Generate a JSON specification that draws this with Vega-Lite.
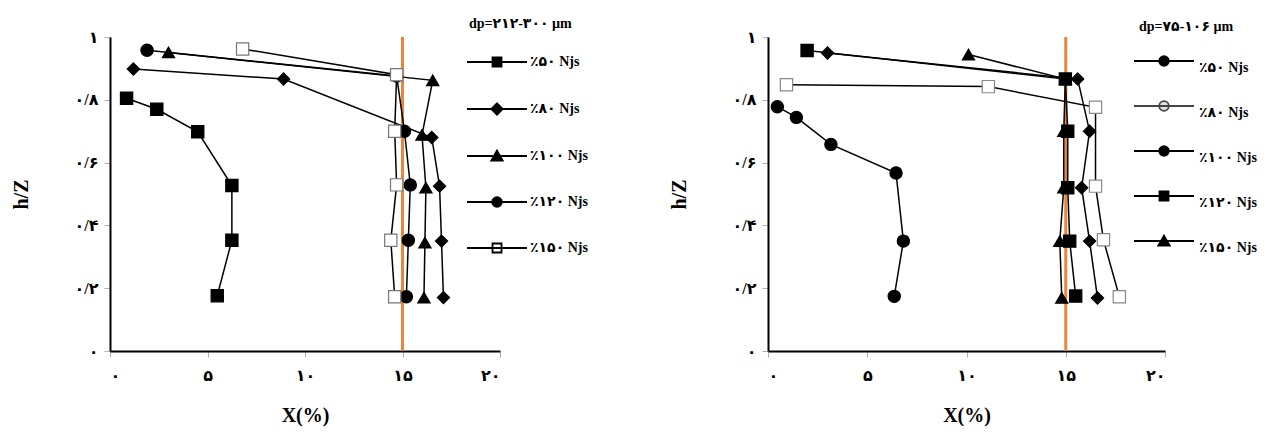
{
  "$schema": "https://vega.github.io/schema/vega-lite/v6.json",
  "autosize": {"type": "pad"},
  "padding": {"left": 11, "top": 17, "right": 5, "bottom": 5},
  "bounds": "flush",
  "spacing": 268,
  "config": {
    "view": {"stroke": null},
    "font": "Liberation Serif, DejaVu Sans",
    "axis": {"grid": false, "domainColor": "black", "domainWidth": 2, "tickColor": "#b0b0b0", "tickSize": 6, "labelFont": "Liberation Serif, DejaVu Sans", "labelFontSize": 16, "labelFontWeight": "bold", "labelColor": "black", "titleFont": "Liberation Serif, DejaVu Sans", "titleFontSize": 20, "titleFontWeight": "bold", "titleColor": "black"},
    "axisX": {"labelPadding": 10, "titlePadding": 22},
    "axisY": {"labelPadding": 6, "titlePadding": 43},
    "legend": {"titleFont": "Liberation Serif, DejaVu Sans", "titleFontSize": 14, "titleFontWeight": "bold", "titleColor": "black", "labelFont": "Liberation Serif, DejaVu Sans", "labelFontSize": 14, "labelFontWeight": "bold", "labelColor": "black", "symbolSize": 144, "symbolStrokeWidth": 1.8, "symbolOpacity": 1, "titlePadding": 24, "rowPadding": 28, "titleLimit": 300, "labelLimit": 300}
  },
  "datasets": {
    "left": [
      {"s": "٪۵۰ Njs", "i": 1, "x": 0.85, "h": 0.805},
      {"s": "٪۵۰ Njs", "i": 2, "x": 2.4, "h": 0.77},
      {"s": "٪۵۰ Njs", "i": 3, "x": 4.5, "h": 0.698},
      {"s": "٪۵۰ Njs", "i": 4, "x": 6.25, "h": 0.527},
      {"s": "٪۵۰ Njs", "i": 5, "x": 6.25, "h": 0.353},
      {"s": "٪۵۰ Njs", "i": 6, "x": 5.5, "h": 0.176},
      {"s": "٪۸۰ Njs", "i": 1, "x": 1.2, "h": 0.898},
      {"s": "٪۸۰ Njs", "i": 2, "x": 8.9, "h": 0.866},
      {"s": "٪۸۰ Njs", "i": 3, "x": 16.5, "h": 0.68},
      {"s": "٪۸۰ Njs", "i": 4, "x": 16.9, "h": 0.525},
      {"s": "٪۸۰ Njs", "i": 5, "x": 17.0, "h": 0.35},
      {"s": "٪۸۰ Njs", "i": 6, "x": 17.1, "h": 0.17},
      {"s": "٪۱۰۰ Njs", "i": 1, "x": 3.0, "h": 0.951},
      {"s": "٪۱۰۰ Njs", "i": 2, "x": 16.55, "h": 0.862},
      {"s": "٪۱۰۰ Njs", "i": 3, "x": 16.0, "h": 0.688},
      {"s": "٪۱۰۰ Njs", "i": 4, "x": 16.2, "h": 0.52},
      {"s": "٪۱۰۰ Njs", "i": 5, "x": 16.15, "h": 0.345},
      {"s": "٪۱۰۰ Njs", "i": 6, "x": 16.1, "h": 0.17},
      {"s": "٪۱۲۰ Njs", "i": 1, "x": 1.9, "h": 0.958},
      {"s": "٪۱۲۰ Njs", "i": 2, "x": 14.7, "h": 0.876},
      {"s": "٪۱۲۰ Njs", "i": 3, "x": 15.1, "h": 0.70},
      {"s": "٪۱۲۰ Njs", "i": 4, "x": 15.4, "h": 0.529},
      {"s": "٪۱۲۰ Njs", "i": 5, "x": 15.3, "h": 0.353},
      {"s": "٪۱۲۰ Njs", "i": 6, "x": 15.2, "h": 0.173},
      {"s": "٪۱۵۰ Njs", "i": 1, "x": 6.8, "h": 0.962},
      {"s": "٪۱۵۰ Njs", "i": 2, "x": 14.7, "h": 0.88},
      {"s": "٪۱۵۰ Njs", "i": 3, "x": 14.6, "h": 0.70},
      {"s": "٪۱۵۰ Njs", "i": 4, "x": 14.7, "h": 0.529},
      {"s": "٪۱۵۰ Njs", "i": 5, "x": 14.4, "h": 0.353},
      {"s": "٪۱۵۰ Njs", "i": 6, "x": 14.6, "h": 0.173}
    ],
    "right": [
      {"s": "٪۵۰ Njs", "i": 1, "x": 0.47, "h": 0.778},
      {"s": "٪۵۰ Njs", "i": 2, "x": 1.43, "h": 0.744},
      {"s": "٪۵۰ Njs", "i": 3, "x": 3.17, "h": 0.658},
      {"s": "٪۵۰ Njs", "i": 4, "x": 6.45, "h": 0.567},
      {"s": "٪۵۰ Njs", "i": 5, "x": 6.82, "h": 0.35},
      {"s": "٪۵۰ Njs", "i": 6, "x": 6.36, "h": 0.174},
      {"s": "٪۸۰ Njs", "i": 1, "x": 0.93, "h": 0.848},
      {"s": "٪۸۰ Njs", "i": 2, "x": 11.1, "h": 0.842},
      {"s": "٪۸۰ Njs", "i": 3, "x": 16.5, "h": 0.776},
      {"s": "٪۸۰ Njs", "i": 4, "x": 16.5, "h": 0.525},
      {"s": "٪۸۰ Njs", "i": 5, "x": 16.9, "h": 0.354},
      {"s": "٪۸۰ Njs", "i": 6, "x": 17.7, "h": 0.173},
      {"s": "٪۱۰۰ Njs", "i": 1, "x": 3.0, "h": 0.949},
      {"s": "٪۱۰۰ Njs", "i": 2, "x": 15.6, "h": 0.866},
      {"s": "٪۱۰۰ Njs", "i": 3, "x": 16.2, "h": 0.70},
      {"s": "٪۱۰۰ Njs", "i": 4, "x": 15.8, "h": 0.52},
      {"s": "٪۱۰۰ Njs", "i": 5, "x": 16.2, "h": 0.35},
      {"s": "٪۱۰۰ Njs", "i": 6, "x": 16.6, "h": 0.169},
      {"s": "٪۱۲۰ Njs", "i": 1, "x": 1.97, "h": 0.957},
      {"s": "٪۱۲۰ Njs", "i": 2, "x": 14.98, "h": 0.866},
      {"s": "٪۱۲۰ Njs", "i": 3, "x": 15.1, "h": 0.70},
      {"s": "٪۱۲۰ Njs", "i": 4, "x": 15.1, "h": 0.52},
      {"s": "٪۱۲۰ Njs", "i": 5, "x": 15.2, "h": 0.35},
      {"s": "٪۱۲۰ Njs", "i": 6, "x": 15.5, "h": 0.175},
      {"s": "٪۱۵۰ Njs", "i": 1, "x": 10.1, "h": 0.944},
      {"s": "٪۱۵۰ Njs", "i": 2, "x": 14.98, "h": 0.866},
      {"s": "٪۱۵۰ Njs", "i": 3, "x": 14.9, "h": 0.70},
      {"s": "٪۱۵۰ Njs", "i": 4, "x": 14.9, "h": 0.52},
      {"s": "٪۱۵۰ Njs", "i": 5, "x": 14.7, "h": 0.35},
      {"s": "٪۱۵۰ Njs", "i": 6, "x": 14.8, "h": 0.169}
    ],
    "ref": [{"x": 15}]
  },
  "hconcat": [
    {
      "width": 390,
      "height": 314,
      "layer": [
        {
          "data": {"name": "ref"},
          "mark": {"type": "rule", "color": "#E8873A", "strokeWidth": 3},
          "encoding": {
            "x": {"field": "x", "type": "quantitative", "scale": {"domain": [0, 20], "nice": false}, "axis": {"values": [0, 5, 10, 15, 20], "labelExpr": "['۰','۵','۱۰','۱۵','۲۰'][round(datum.value/5)]", "title": "X(%)"}},
            "y": {"datum": 0, "type": "quantitative", "scale": {"domain": [0, 1], "nice": false}, "axis": {"values": [0, 0.1, 0.2, 0.3, 0.4, 0.5, 0.6, 0.7, 0.8, 0.9, 1], "labelExpr": "['۰','','۰/۲','','۰/۴','','۰/۶','','۰/۸','','۱'][round(datum.value*10)]", "title": "h/Z"}},
            "y2": {"datum": 1}
          }
        },
        {
          "data": {"name": "left"},
          "mark": {"type": "line", "color": "black", "strokeWidth": 1.5},
          "encoding": {
            "x": {"field": "x", "type": "quantitative"},
            "y": {"field": "h", "type": "quantitative"},
            "detail": {"field": "s"},
            "order": {"field": "i", "type": "quantitative"}
          }
        },
        {
          "data": {"name": "left"},
          "mark": {"type": "point", "size": 150, "opacity": 1, "fillOpacity": 1, "strokeWidth": 1.2},
          "encoding": {
            "x": {"field": "x", "type": "quantitative"},
            "y": {"field": "h", "type": "quantitative"},
            "shape": {"field": "s", "type": "nominal", "scale": {"domain": ["٪۵۰ Njs", "٪۸۰ Njs", "٪۱۰۰ Njs", "٪۱۲۰ Njs", "٪۱۵۰ Njs"], "range": ["square", "diamond", "triangle-up", "circle", "square"]}, "legend": null},
            "fill": {"field": "s", "type": "nominal", "scale": {"domain": ["٪۵۰ Njs", "٪۸۰ Njs", "٪۱۰۰ Njs", "٪۱۲۰ Njs", "٪۱۵۰ Njs"], "range": ["black", "black", "black", "black", "white"]}, "legend": null},
            "stroke": {"field": "s", "type": "nominal", "scale": {"domain": ["٪۵۰ Njs", "٪۸۰ Njs", "٪۱۰۰ Njs", "٪۱۲۰ Njs", "٪۱۵۰ Njs"], "range": ["black", "black", "black", "black", "#777777"]}, "legend": null}
          }
        },
        {
          "data": {"name": "left"},
          "mark": {"type": "point", "size": 144, "opacity": 0, "strokeWidth": 1.8},
          "encoding": {
            "x": {"field": "x", "type": "quantitative"},
            "y": {"field": "h", "type": "quantitative"},
            "shape": {"field": "s", "type": "nominal", "scale": {"domain": ["٪۵۰ Njs", "٪۸۰ Njs", "٪۱۰۰ Njs", "٪۱۲۰ Njs", "٪۱۵۰ Njs"], "range": ["M-5,0H5M-0.75,-0.75H0.75V0.75H-0.75Z", "M-5,0H5M0,-0.95L0.95,0L0,0.95L-0.95,0Z", "M-5,0H5M0,-0.9L0.95,0.75H-0.95Z", "M-5,0H5M-0.8,0A0.8,0.8 0 1,0 0.8,0A0.8,0.8 0 1,0 -0.8,0Z", "M-5,0H5M-0.75,-0.75H0.75V0.75H-0.75Z"]}, "legend": {"title": "dp=۲۱۲-۳۰۰ µm", "orient": "none", "legendX": 359, "legendY": -20, "symbolOffset": 21, "labelOffset": 26}},
            "fill": {"field": "s", "type": "nominal", "scale": {"domain": ["٪۵۰ Njs", "٪۸۰ Njs", "٪۱۰۰ Njs", "٪۱۲۰ Njs", "٪۱۵۰ Njs"], "range": ["black", "black", "black", "black", "white"]}, "legend": {"title": "dp=۲۱۲-۳۰۰ µm", "orient": "none", "legendX": 359, "legendY": -20, "symbolOffset": 21, "labelOffset": 26}},
            "stroke": {"field": "s", "type": "nominal", "scale": {"domain": ["٪۵۰ Njs", "٪۸۰ Njs", "٪۱۰۰ Njs", "٪۱۲۰ Njs", "٪۱۵۰ Njs"], "range": ["black", "black", "black", "black", "black"]}, "legend": {"title": "dp=۲۱۲-۳۰۰ µm", "orient": "none", "legendX": 359, "legendY": -20, "symbolOffset": 21, "labelOffset": 26}}
          }
        }
      ],
      "resolve": {"scale": {"shape": "independent", "fill": "independent", "stroke": "independent"}}
    },
    {
      "width": 397,
      "height": 314,
      "layer": [
        {
          "data": {"name": "ref"},
          "mark": {"type": "rule", "color": "#E8873A", "strokeWidth": 3},
          "encoding": {
            "x": {"field": "x", "type": "quantitative", "scale": {"domain": [0, 20], "nice": false}, "axis": {"values": [0, 5, 10, 15, 20], "labelExpr": "['۰','۵','۱۰','۱۵','۲۰'][round(datum.value/5)]", "title": "X(%)"}},
            "y": {"datum": 0, "type": "quantitative", "scale": {"domain": [0, 1], "nice": false}, "axis": {"values": [0, 0.1, 0.2, 0.3, 0.4, 0.5, 0.6, 0.7, 0.8, 0.9, 1], "labelExpr": "['۰','','۰/۲','','۰/۴','','۰/۶','','۰/۸','','۱'][round(datum.value*10)]", "title": "h/Z"}},
            "y2": {"datum": 1}
          }
        },
        {
          "data": {"name": "right"},
          "mark": {"type": "line", "color": "black", "strokeWidth": 1.5},
          "encoding": {
            "x": {"field": "x", "type": "quantitative"},
            "y": {"field": "h", "type": "quantitative"},
            "detail": {"field": "s"},
            "order": {"field": "i", "type": "quantitative"}
          }
        },
        {
          "data": {"name": "right"},
          "mark": {"type": "point", "size": 150, "opacity": 1, "fillOpacity": 1, "strokeWidth": 1.2},
          "encoding": {
            "x": {"field": "x", "type": "quantitative"},
            "y": {"field": "h", "type": "quantitative"},
            "shape": {"field": "s", "type": "nominal", "scale": {"domain": ["٪۵۰ Njs", "٪۸۰ Njs", "٪۱۰۰ Njs", "٪۱۲۰ Njs", "٪۱۵۰ Njs"], "range": ["circle", "square", "diamond", "square", "triangle-up"]}, "legend": null},
            "fill": {"field": "s", "type": "nominal", "scale": {"domain": ["٪۵۰ Njs", "٪۸۰ Njs", "٪۱۰۰ Njs", "٪۱۲۰ Njs", "٪۱۵۰ Njs"], "range": ["black", "white", "black", "black", "black"]}, "legend": null},
            "stroke": {"field": "s", "type": "nominal", "scale": {"domain": ["٪۵۰ Njs", "٪۸۰ Njs", "٪۱۰۰ Njs", "٪۱۲۰ Njs", "٪۱۵۰ Njs"], "range": ["black", "#888888", "black", "black", "black"]}, "legend": null}
          }
        },
        {
          "data": {"name": "right"},
          "mark": {"type": "point", "size": 144, "opacity": 0, "strokeWidth": 1.8},
          "encoding": {
            "x": {"field": "x", "type": "quantitative"},
            "y": {"field": "h", "type": "quantitative"},
            "shape": {"field": "s", "type": "nominal", "scale": {"domain": ["٪۵۰ Njs", "٪۸۰ Njs", "٪۱۰۰ Njs", "٪۱۲۰ Njs", "٪۱۵۰ Njs"], "range": ["M-5,0H5M-0.8,0A0.8,0.8 0 1,0 0.8,0A0.8,0.8 0 1,0 -0.8,0Z", "M-5,0H5M-0.8,0A0.8,0.8 0 1,0 0.8,0A0.8,0.8 0 1,0 -0.8,0Z", "M-5,0H5M-0.8,0A0.8,0.8 0 1,0 0.8,0A0.8,0.8 0 1,0 -0.8,0Z", "M-5,0H5M-0.75,-0.75H0.75V0.75H-0.75Z", "M-5,0H5M0,-0.9L0.95,0.75H-0.95Z"]}, "legend": {"title": "dp=۷۵-۱۰۶ µm", "orient": "none", "legendX": 371, "legendY": -17, "rowPadding": 22, "titlePadding": 20, "labelBaseline": "top", "symbolOffset": 18, "labelOffset": 28}},
            "fill": {"field": "s", "type": "nominal", "scale": {"domain": ["٪۵۰ Njs", "٪۸۰ Njs", "٪۱۰۰ Njs", "٪۱۲۰ Njs", "٪۱۵۰ Njs"], "range": ["black", "#e4e4e4", "black", "black", "black"]}, "legend": {"title": "dp=۷۵-۱۰۶ µm", "orient": "none", "legendX": 371, "legendY": -17, "rowPadding": 22, "titlePadding": 20, "labelBaseline": "top", "symbolOffset": 18, "labelOffset": 28}},
            "stroke": {"field": "s", "type": "nominal", "scale": {"domain": ["٪۵۰ Njs", "٪۸۰ Njs", "٪۱۰۰ Njs", "٪۱۲۰ Njs", "٪۱۵۰ Njs"], "range": ["black", "#444444", "black", "black", "black"]}, "legend": {"title": "dp=۷۵-۱۰۶ µm", "orient": "none", "legendX": 371, "legendY": -17, "rowPadding": 22, "titlePadding": 20, "labelBaseline": "top", "symbolOffset": 18, "labelOffset": 28}}
          }
        }
      ],
      "resolve": {"scale": {"shape": "independent", "fill": "independent", "stroke": "independent"}}
    }
  ],
  "resolve": {"scale": {"shape": "independent", "fill": "independent", "stroke": "independent"}}
}
